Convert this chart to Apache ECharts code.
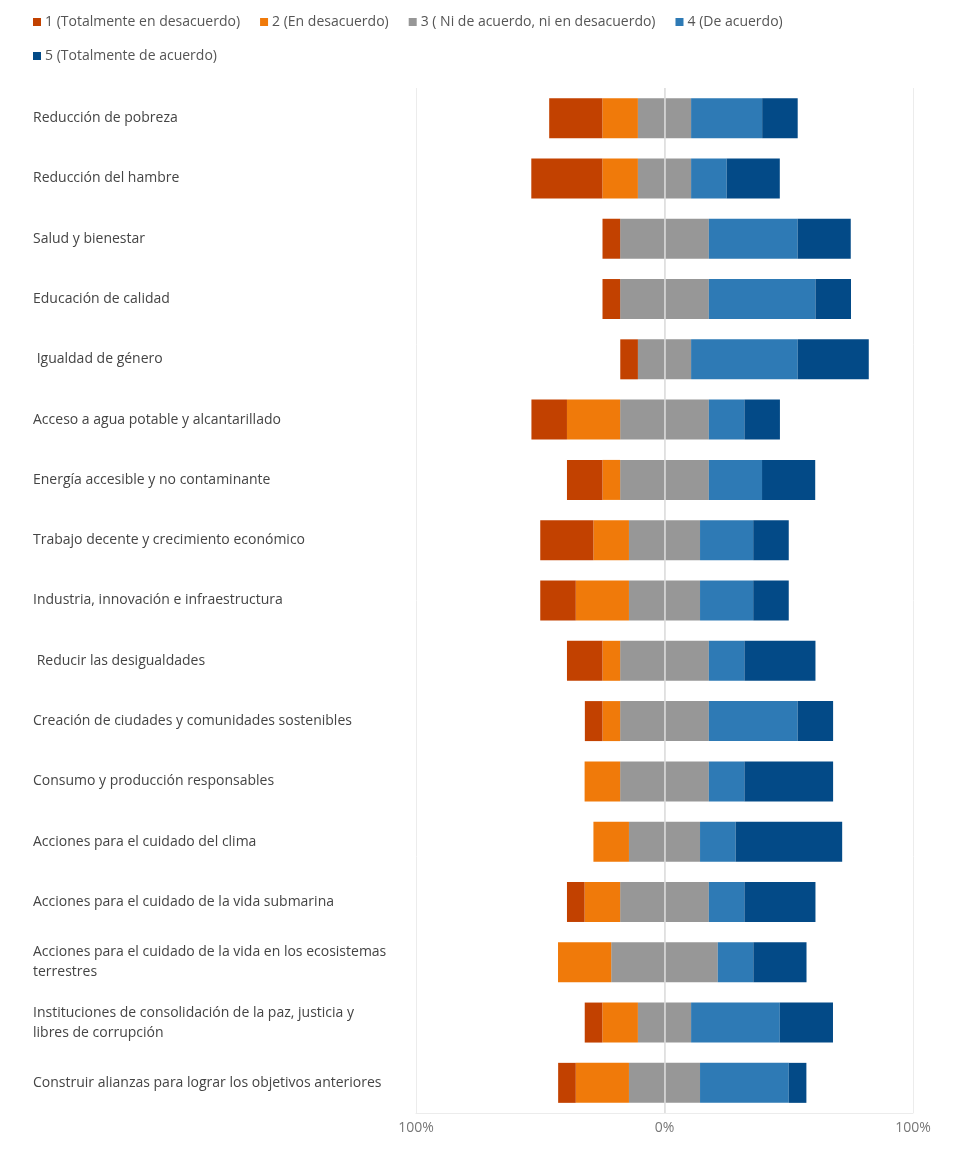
<!DOCTYPE html>
<html>
<head>
<meta charset="utf-8">
<script src="https://cdn.jsdelivr.net/npm/echarts@6/dist/echarts.min.js"></script>
<style>
html,body{margin:0;padding:0;background:#fff;}
#chart{width:970px;height:1153px;}
</style>
</head>
<body>
<div id="chart"></div>
<script>
var categories = [
  "Reducción de pobreza",
  "Reducción del hambre",
  "Salud y bienestar",
  "Educación de calidad",
  " Igualdad de género",
  "Acceso a agua potable y alcantarillado",
  "Energía accesible y no contaminante",
  "Trabajo decente y crecimiento económico",
  "Industria, innovación e infraestructura",
  " Reducir las desigualdades",
  "Creación de ciudades y comunidades sostenibles",
  "Consumo y producción responsables",
  "Acciones para el cuidado del clima",
  "Acciones para el cuidado de la vida submarina",
  "Acciones para el cuidado de la vida en los ecosistemas terrestres",
  "Instituciones de consolidación de la paz, justicia y libres de corrupción",
  "Construir alianzas para lograr los objetivos anteriores"
];
var seriesNames = [
  "1 (Totalmente en desacuerdo)",
  "2 (En desacuerdo)",
  "3 ( Ni de acuerdo, ni en desacuerdo)",
  "4 (De acuerdo)",
  "5 (Totalmente de acuerdo)"
];
// percentages
var totalDesacuerdo = [21.4, 28.6, 7.1, 7.1, 7.1, 14.3, 14.3, 21.4, 14.3, 14.3, 7.1, 0, 0, 7.1, 0, 7.1, 7.1];
var desacuerdo      = [14.3, 14.3, 0, 0, 0, 21.4, 7.1, 14.3, 21.4, 7.1, 7.1, 14.3, 14.3, 14.3, 21.4, 14.3, 21.4];
var neutral         = [21.4, 21.4, 35.7, 35.7, 21.4, 35.7, 35.7, 28.6, 28.6, 35.7, 35.7, 35.7, 28.6, 35.7, 42.9, 21.4, 28.6];
var deAcuerdo       = [28.6, 14.3, 35.7, 42.9, 42.9, 14.3, 21.4, 21.4, 21.4, 14.3, 35.7, 14.3, 14.3, 14.3, 14.3, 35.7, 35.7];
var totalAcuerdo    = [14.3, 21.4, 21.4, 14.3, 28.6, 14.3, 21.4, 14.3, 14.3, 28.6, 14.3, 35.7, 42.9, 28.6, 21.4, 21.4, 7.1];
var tickValues = [-100, 0, 100];

var colors = ["#C24100", "#F07A0A", "#979797", "#2E7AB5", "#034A87"];

function neg(arr){ return arr.map(function(v){ return -v; }); }
function half(arr, sign){ return arr.map(function(v){ return sign * v / 2; }); }

var barW = 40;
function bar(name, data, color, extra){
  var s = {
    name: name, type: 'bar', stack: 'total', data: data,
    barWidth: barW, itemStyle: {color: color},
    emphasis: {disabled: true}
  };
  if (extra) for (var k in extra) s[k] = extra[k];
  return s;
}

var chart = echarts.init(document.getElementById('chart'), null, {renderer: 'canvas'});
chart.setOption({
  animation: false,
  textStyle: {fontFamily: 'Open Sans'},
  color: colors,
  legend: {
    data: seriesNames.map(function(n, i){ return {name: n, itemStyle: {color: colors[i]}}; }),
    left: 28, top: 10, width: 900,
    icon: 'rect', itemWidth: 8, itemHeight: 8, itemGap: 20,
    textStyle: {fontSize: 14, color: '#555', padding: [0, 7, 0, -1]}
  },
  grid: {left: 416, right: 57, top: 88, bottom: 40, containLabel: false},
  xAxis: {
    type: 'value', min: -100, max: 100, interval: 100,
    axisLine: {show: true, lineStyle: {color: '#ececec'}},
    axisTick: {show: false},
    splitLine: {show: true, lineStyle: {color: '#ececec'}},
    axisLabel: {
      color: '#777', fontSize: 14, margin: 8,
      formatter: function(v){ return tickValues.indexOf(v) >= 0 ? Math.abs(v) + '%' : ''; }
    }
  },
  yAxis: {
    type: 'category', data: categories, inverse: true,
    axisLine: {show: false}, axisTick: {show: false},
    axisLabel: {
      align: 'left', margin: 383, fontSize: 14, color: '#444',
      width: 357, overflow: 'break', lineHeight: 20
    }
  },
  series: [
    bar(seriesNames[2], half(neutral, -1), colors[2]),
    bar(seriesNames[1], neg(desacuerdo), colors[1]),
    bar(seriesNames[0], neg(totalDesacuerdo), colors[0]),
    bar(seriesNames[2], half(neutral, 1), colors[2], {
      markLine: {
        silent: true, symbol: 'none', label: {show: false},
        lineStyle: {color: '#dcdcdc', width: 1.5, type: 'solid'},
        data: [{xAxis: 0}], z: 10
      }
    }),
    bar(seriesNames[3], deAcuerdo, colors[3]),
    bar(seriesNames[4], totalAcuerdo, colors[4])
  ]
});
</script>
</body>
</html>
